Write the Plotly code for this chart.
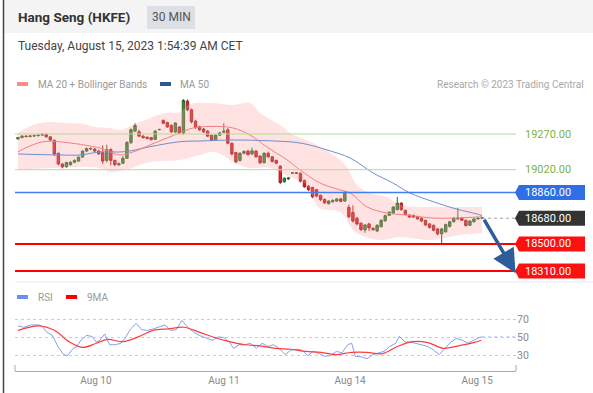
import plotly.graph_objects as go

W, H = 593, 393

# ---------------- data ----------------
candle_idx = list(range(116))
opens = [19236, 19245, 19255, 19252, 19256, 19258, 19262, 19268, 19250, 19226,
         19135, 19060, 19040, 19055, 19072, 19080, 19108, 19150, 19165, 19165,
         19150, 19140, 19085, 19160, 19085, 19055, 19065, 19100, 19210, 19290,
         19285, 19255, 19248, 19245, 19232, 19300, 19365, 19350, 19330, 19284,
         19319, 19277, 19500, 19440, 19360, 19320, 19305, 19290, 19260, 19230,
         19262, 19282, 19300, 19205, 19140, 19085, 19135, 19150, 19130, 19150,
         19115, 19070, 19135, 19110, 19085, 19045, 18935, 18955, 18995, 18998,
         18995, 18945, 18905, 18895, 18880, 18840, 18812, 18782, 18795, 18800,
         18815, 18800, 18755, 18720, 18680, 18645, 18598, 18640, 18610, 18590,
         18620, 18662, 18700, 18716, 18740, 18785, 18735, 18702, 18700, 18690,
         18680, 18665, 18640, 18630, 18605, 18570, 18585, 18622, 18655, 18675,
         18680, 18665, 18630, 18655, 18675, 18680]
highs = [19250, 19262, 19262, 19263, 19265, 19268, 19275, 19272, 19255, 19230,
         19140, 19065, 19076, 19078, 19092, 19112, 19155, 19175, 19176, 19170,
         19160, 19190, 19195, 19170, 19090, 19070, 19115, 19220, 19310, 19345,
         19300, 19262, 19252, 19250, 19298, 19306, 19372, 19356, 19338, 19352,
         19325, 19515, 19512, 19448, 19370, 19328, 19312, 19298, 19265, 19268,
         19285, 19345, 19310, 19210, 19145, 19142, 19156, 19158, 19175, 19156,
         19120, 19142, 19145, 19115, 19090, 19050, 18966, 18968, 19002, 19002,
         19000, 18950, 18910, 18900, 18885, 18845, 18818, 18806, 18812, 18820,
         18822, 18868, 18775, 18770, 18690, 18650, 18640, 18648, 18615, 18638,
         18672, 18705, 18728, 18765, 18830, 18792, 18740, 18708, 18705, 18696,
         18686, 18670, 18645, 18635, 18610, 18612, 18642, 18660, 18688, 18752,
         18686, 18670, 18666, 18680, 18685, 18690]
lows = [19230, 19240, 19246, 19247, 19250, 19253, 19258, 19245, 19222, 19115,
        19050, 19030, 19035, 19048, 19065, 19075, 19104, 19145, 19158, 19144,
        19125, 19060, 19070, 19050, 19045, 19045, 19060, 19095, 19200, 19285,
        19250, 19238, 19232, 19225, 19228, 19296, 19338, 19312, 19278, 19278,
        19270, 19265, 19430, 19345, 19305, 19292, 19278, 19248, 19220, 19225,
        19256, 19280, 19198, 19120, 19065, 19078, 19128, 19120, 19125, 19104,
        19060, 19062, 19104, 19070, 19058, 18920, 18928, 18948, 18992, 18990,
        18930, 18895, 18870, 18820, 18828, 18800, 18780, 18776, 18790, 18795,
        18792, 18796, 18680, 18650, 18630, 18590, 18578, 18590, 18592, 18582,
        18615, 18655, 18695, 18710, 18735, 18732, 18700, 18682, 18682, 18670,
        18654, 18626, 18608, 18588, 18560, 18505, 18578, 18615, 18650, 18668,
        18660, 18622, 18625, 18650, 18670, 18675]
closes = [19245, 19255, 19252, 19256, 19258, 19262, 19268, 19250, 19228, 19130,
          19060, 19040, 19070, 19072, 19085, 19108, 19150, 19168, 19168, 19150,
          19130, 19080, 19160, 19085, 19055, 19062, 19100, 19210, 19300, 19330,
          19255, 19244, 19238, 19230, 19290, 19302, 19345, 19320, 19285, 19347,
          19277, 19505, 19440, 19355, 19315, 19300, 19285, 19255, 19228, 19262,
          19278, 19290, 19205, 19130, 19075, 19135, 19148, 19125, 19152, 19110,
          19068, 19135, 19110, 19078, 19065, 18930, 18960, 18962, 18998, 18995,
          18940, 18900, 18880, 18830, 18835, 18810, 18788, 18800, 18805, 18815,
          18798, 18862, 18690, 18660, 18640, 18600, 18632, 18612, 18600, 18630,
          18665, 18698, 18722, 18758, 18785, 18740, 18705, 18688, 18688, 18675,
          18660, 18632, 18615, 18595, 18570, 18605, 18635, 18655, 18680, 18680,
          18665, 18628, 18660, 18675, 18680, 18682]

ma20_x = [0, 6.2, 12.9, 17.8, 20.3, 25.3, 28.5, 32.7, 36.9, 40.1, 43.4, 49.3, 53.3, 57.5,
          61.7, 66.7, 69.9, 74.8, 79.8, 82.3, 86.5, 91.4, 96.4, 102.9, 107.8, 113.8, 115]
ma20 = [19146, 19216, 19207, 19186, 19172, 19123, 19144, 19193, 19242, 19277, 19312, 19323,
        19312, 19263, 19179, 19088, 19018, 18927, 18878, 18857, 18759, 18716, 18702, 18681,
        18681, 18688, 18690]

bb_up_x = [0, 3.7, 7.9, 12.1, 16.1, 19.1, 22.8, 25.3, 28.5, 32.7, 36.4, 40.1, 42.6, 47.6, 53.3,
           57.5, 60, 65.7, 67.4, 74.1, 79.8, 81.5, 84, 87.2, 91.4, 94.7, 99.6, 107.1, 115]
bb_up = [19277, 19333, 19354, 19347, 19340, 19319, 19312, 19298, 19333, 19382, 19417, 19424,
         19480, 19487, 19473, 19487, 19417, 19319, 19277, 19193, 19088, 19039, 18913, 18857,
         18829, 18773, 18759, 18759, 18759]
bb_lo_x = [0, 7.9, 20.3, 22.8, 26.5, 32.7, 40.1, 45.1, 48.8, 53.8, 57.5, 62.5, 67.4, 71.1, 74.8,
           79.8, 83.6, 89.7, 94.7, 102.1, 109.5, 115]
bb_lo = [19018, 19032, 19032, 19004, 19018, 19074, 19088, 19123, 19144, 19067, 19032, 19032,
         18969, 18927, 18751, 18723, 18583, 18527, 18548, 18527, 18562, 18576]

ma50_x = [0, 10.4, 15.4, 20.3, 26.5, 32.7, 40.1, 45.1, 53.3, 61.7, 69.9, 76.6, 82.3, 88, 92.9,
          97.1, 102.9, 107.8, 113.8, 115]
ma50 = [19130, 19123, 19123, 19144, 19146, 19181, 19216, 19221, 19228, 19223, 19207, 19158,
        19102, 18997, 18927, 18857, 18796, 18751, 18709, 18699]

rsi_x = [0, 1.4, 3.3, 5.2, 6.1, 7.1, 8.5, 9.9, 11.3, 12.3, 13.7, 14.6, 15.6, 17, 18.4, 19.4,
         20.3, 21.5, 22.7, 24.1, 25.5, 26.5, 27.9, 29.3, 30.7, 32.1, 33.5, 35, 36.4, 37.8, 39.2,
         40.6, 42.1, 43.5, 44.9, 46.8, 48.2, 49.6, 51, 52.4, 53.4, 54.8, 56.2, 57.6, 59.1, 60.5,
         61.9, 63.3, 64.7, 66.2, 67.6, 69, 70.4, 71.8, 73.2, 74.7, 76.1, 77.5, 78.9, 80.3, 81.7,
         82.7, 83.6, 85, 86.5, 87.9, 89.3, 90.7, 92.1, 93.6, 94.5, 95.9, 97.3, 98.8, 100.2,
         101.6, 103, 104.4, 105.8, 107.3, 108.7, 110.1, 111.5, 112.9, 114.3, 115]
rsi = [63, 61.4, 64, 64, 62, 56, 52.5, 40, 31, 30, 38, 40, 47, 52.5, 51, 45, 47, 54, 42, 42,
       43.6, 49, 59.6, 65.7, 58.6, 57.9, 59.6, 62, 64, 58, 58.6, 69, 61.4, 56, 52.5, 49, 47,
       50.7, 50, 45, 38, 42, 42, 43.6, 38, 43.6, 40, 42, 38, 31, 36, 37, 36, 30, 34.6, 32, 29,
       30, 34.6, 33, 42, 43.6, 29, 28.6, 26.4, 31, 33, 34.6, 40, 43.6, 51.4, 45, 45, 43, 42,
       40, 36, 31, 38, 45, 49, 47, 43.6, 47, 50, 50.7]
ma9_x = [0, 5.2, 9, 12.8, 16.1, 19.4, 22.2, 26, 29.8, 33.5, 37.3, 41.1, 44.9, 48.7, 52.4, 56.2,
         60, 63.8, 67.6, 71.3, 75.1, 78.9, 82.7, 86.5, 90.2, 94, 97.8, 101.6, 105.4, 109.1,
         112.9, 114.8]
ma9 = [57.9, 63, 58, 45, 39, 43.6, 48, 45.4, 50.7, 58, 59.6, 61.4, 56, 50, 45.4, 42, 40.7, 38,
       37, 34.6, 33.6, 31, 33.6, 33.6, 32, 40, 45.4, 44.3, 38, 40.7, 44.3, 47]

day_ticks = [19.3, 51.05, 82.3, 113.8]
day_labels = ["Aug 10", "Aug 11", "Aug 14", "Aug 15"]

resistances = [19270, 19020]
pivot = 18860
last_price = 18680
supports = [18500, 18310]
rsi_levels = [30, 50, 70]

# ---------------- geometry helpers ----------------
FONT = "Roboto, Arial, sans-serif"
def fx(p):
    return p / W
def fy(p):
    return 1 - p / H

X0, X1 = 15, 516
STEP = 4.035
FIRST = 18
xr = [(X0 - FIRST) / STEP, (X1 - FIRST) / STEP]
last_i = candle_idx[-1]

fig = go.Figure()

# Bollinger band
fig.add_trace(go.Scatter(x=bb_up_x, y=bb_up, mode="lines", line=dict(width=0, shape="spline"),
                         hoverinfo="skip", showlegend=False, xaxis="x", yaxis="y"))
fig.add_trace(go.Scatter(x=bb_lo_x, y=bb_lo, mode="lines", line=dict(width=0, shape="spline"),
                         fill="tonexty", fillcolor="rgba(255,160,160,0.30)",
                         hoverinfo="skip", showlegend=False, xaxis="x", yaxis="y"))
fig.add_trace(go.Scatter(x=ma50_x, y=ma50, mode="lines",
                         line=dict(width=1, color="#6f8fcf", shape="spline"),
                         showlegend=False, xaxis="x", yaxis="y"))
fig.add_trace(go.Scatter(x=ma20_x, y=ma20, mode="lines",
                         line=dict(width=1, color="#f08080", shape="spline"),
                         showlegend=False, xaxis="x", yaxis="y"))
fig.add_trace(go.Candlestick(
    x=candle_idx, open=opens, high=highs, low=lows, close=closes,
    increasing=dict(line=dict(color="#2a6a2a", width=1), fillcolor="#2f8f2f"),
    decreasing=dict(line=dict(color="#a81c1c", width=1), fillcolor="#d42828"),
    showlegend=False, xaxis="x", yaxis="y"))

# RSI panel
fig.add_trace(go.Scatter(x=rsi_x, y=rsi, mode="lines", line=dict(width=1, color="#84a0f0"),
                         showlegend=False, xaxis="x2", yaxis="y2"))
fig.add_trace(go.Scatter(x=ma9_x, y=ma9, mode="lines",
                         line=dict(width=1.2, color="#ff3b3b", shape="spline"),
                         showlegend=False, xaxis="x2", yaxis="y2"))

shapes = []
ann = []

# header
shapes.append(dict(type="rect", xref="paper", yref="paper", x0=fx(4), x1=1, y0=fy(33), y1=1,
                   fillcolor="#f4f4f4", line=dict(width=0), layer="below"))
shapes.append(dict(type="rect", xref="paper", yref="paper", x0=fx(147), x1=fx(195),
                   y0=fy(29), y1=fy(6), fillcolor="#dcdfe3", line=dict(width=0), layer="below"))
shapes.append(dict(type="line", xref="paper", yref="paper", x0=fx(3.5), x1=fx(3.5), y0=0, y1=1,
                   line=dict(color="#444", width=1.5)))
ann.append(dict(text="<b>Hang Seng (HKFE)</b>", x=fx(16), y=fy(17), xanchor="left",
                yanchor="middle", font=dict(size=13.5, color="#333", family=FONT)))
ann.append(dict(text="30 MIN", x=fx(171), y=fy(17.5), xanchor="center", yanchor="middle",
                font=dict(size=12, color="#555", family=FONT)))
ann.append(dict(text="Tuesday, August 15, 2023 1:54:39 AM CET", x=fx(16), y=fy(46),
                xanchor="left", yanchor="middle", font=dict(size=12, color="#444", family=FONT)))

# legend main
shapes.append(dict(type="rect", xref="paper", yref="paper", x0=fx(17), x1=fx(28), y0=fy(86),
                   y1=fy(82), fillcolor="#ff8a8a", line=dict(width=0)))
shapes.append(dict(type="rect", xref="paper", yref="paper", x0=fx(160), x1=fx(171), y0=fy(86),
                   y1=fy(82), fillcolor="#2f5597", line=dict(width=0)))
ann.append(dict(text="MA 20 + Bollinger Bands", x=fx(36), y=fy(84), xanchor="left",
                yanchor="middle", font=dict(size=10, color="#9a9a9a", family=FONT)))
ann.append(dict(text="MA 50", x=fx(178), y=fy(84), xanchor="left", yanchor="middle",
                font=dict(size=10, color="#9a9a9a", family=FONT)))
ann.append(dict(text="Research © 2023 Trading Central", x=fx(586), y=fy(84), xanchor="right",
                yanchor="middle", font=dict(size=10, color="#a8a8a8", family=FONT)))

# legend RSI
shapes.append(dict(type="rect", xref="paper", yref="paper", x0=fx(17), x1=fx(28), y0=fy(299),
                   y1=fy(295), fillcolor="#6c8ef0", line=dict(width=0)))
shapes.append(dict(type="rect", xref="paper", yref="paper", x0=fx(66), x1=fx(77), y0=fy(299),
                   y1=fy(295), fillcolor="#ff0000", line=dict(width=0)))
ann.append(dict(text="RSI", x=fx(36), y=fy(297), xanchor="left", yanchor="middle",
                font=dict(size=10, color="#9a9a9a", family=FONT)))
ann.append(dict(text="9MA", x=fx(85), y=fy(297), xanchor="left", yanchor="middle",
                font=dict(size=10, color="#9a9a9a", family=FONT)))

# main panel bottom separator
shapes.append(dict(type="line", xref="paper", yref="paper", x0=fx(15), x1=1, y0=fy(282),
                   y1=fy(282), line=dict(color="#e6ebee", width=1)))

# level lines
for lv in resistances:
    shapes.append(dict(type="line", xref="x domain", yref="y", x0=0, x1=1, y0=lv, y1=lv,
                       line=dict(color="#b4da96", width=1)))
shapes.append(dict(type="line", xref="x domain", yref="y", x0=0, x1=1, y0=pivot, y1=pivot,
                   line=dict(color="#3f7ff0", width=1.5)))
for lv in supports:
    shapes.append(dict(type="line", xref="x domain", yref="y", x0=0, x1=1, y0=lv, y1=lv,
                       line=dict(color="#ff0000", width=2)))
shapes.append(dict(type="line", xref="x", yref="y", x0=last_i, x1=xr[1], y0=last_price,
                   y1=last_price, line=dict(color="#9aa3b0", width=1, dash="dot")))

# level labels
LBL = "M 0 0 L 4 7.5 L 70 7.5 L 70 -7.5 L 4 -7.5 Z"
def tag(level, color):
    shapes.append(dict(type="path", xref="paper", yref="y", xsizemode="pixel",
                       ysizemode="pixel", xanchor=fx(515), yanchor=level, path=LBL,
                       fillcolor=color, line=dict(width=0)))
    ann.append(dict(text=f"{level:.2f}", xref="paper", yref="y", x=fx(548), y=level,
                    xanchor="center", yanchor="middle",
                    font=dict(size=11, color="white", family=FONT)))
for lv in resistances:
    ann.append(dict(text=f"{lv:.2f}", xref="paper", yref="y", x=fx(548), y=lv,
                    xanchor="center", yanchor="middle",
                    font=dict(size=11, color="#7cb342", family=FONT)))
tag(pivot, "#2f6fe6")
tag(last_price, "#333333")
for lv in supports:
    tag(lv, "#ff1010")

# arrow to target support
ann.append(dict(text="", xref="x", yref="y", axref="x", ayref="y", x=123.3, y=supports[-1] - 15,
                ax=last_i + 0.3, ay=last_price, showarrow=True, arrowhead=2, arrowsize=1.35,
                arrowwidth=3.5, arrowcolor="#2f5d9a"))

# RSI panel: extension of last RSI value and axis end caps
shapes.append(dict(type="line", xref="x2", yref="y2", x0=rsi_x[-1], x1=xr[1], y0=rsi[-1],
                   y1=rsi[-1], line=dict(color="#aebff2", width=1, dash="dot")))
for px in (X0, X1):
    shapes.append(dict(type="line", xref="paper", yref="paper", x0=fx(px), x1=fx(px),
                       y0=fy(371), y1=fy(365), line=dict(color="#aaaaaa", width=1)))

for a in ann:
    a.setdefault("xref", "paper")
    a.setdefault("yref", "paper")
    a.setdefault("showarrow", False)

# y ranges (price scale: 19270 @134px, 18310 @271px)
ppp = (271 - 134) / (19270 - 18310)
y_top = 19270 + (134 - 95) / ppp
y_bot = 19270 - (282 - 134) / ppp

fig.update_layout(
    width=W, height=H, margin=dict(l=0, r=0, t=0, b=0),
    paper_bgcolor="white", plot_bgcolor="rgba(0,0,0,0)",
    font=dict(family=FONT),
    showlegend=False, hovermode=False, boxgap=0.15,
    shapes=shapes, annotations=ann,
    xaxis=dict(domain=[fx(X0), fx(X1)], range=xr, visible=False,
               rangeslider=dict(visible=False), anchor="y"),
    yaxis=dict(domain=[fy(282), fy(95)], range=[y_bot, y_top], visible=False, anchor="x"),
    xaxis2=dict(domain=[fx(X0), fx(X1)], range=xr, anchor="y2", showline=True,
                linecolor="#aaaaaa", linewidth=1, showgrid=False, zeroline=False,
                tickvals=day_ticks, ticktext=day_labels, ticks="",
                tickfont=dict(size=10, color="#8a8a8a", family=FONT)),
    yaxis2=dict(domain=[fy(371), fy(310)], range=[12.8, 80.6], anchor="x2", side="right",
                tickvals=rsi_levels, ticks="", showgrid=True, griddash="dot",
                gridcolor="#cccccc", zeroline=False, showline=False,
                tickfont=dict(size=10.5, color="#8a8a8a", family=FONT)),
)

fig.write_html("out.html", config={"displayModeBar": False},
               post_script="document.body.style.margin='0';")
